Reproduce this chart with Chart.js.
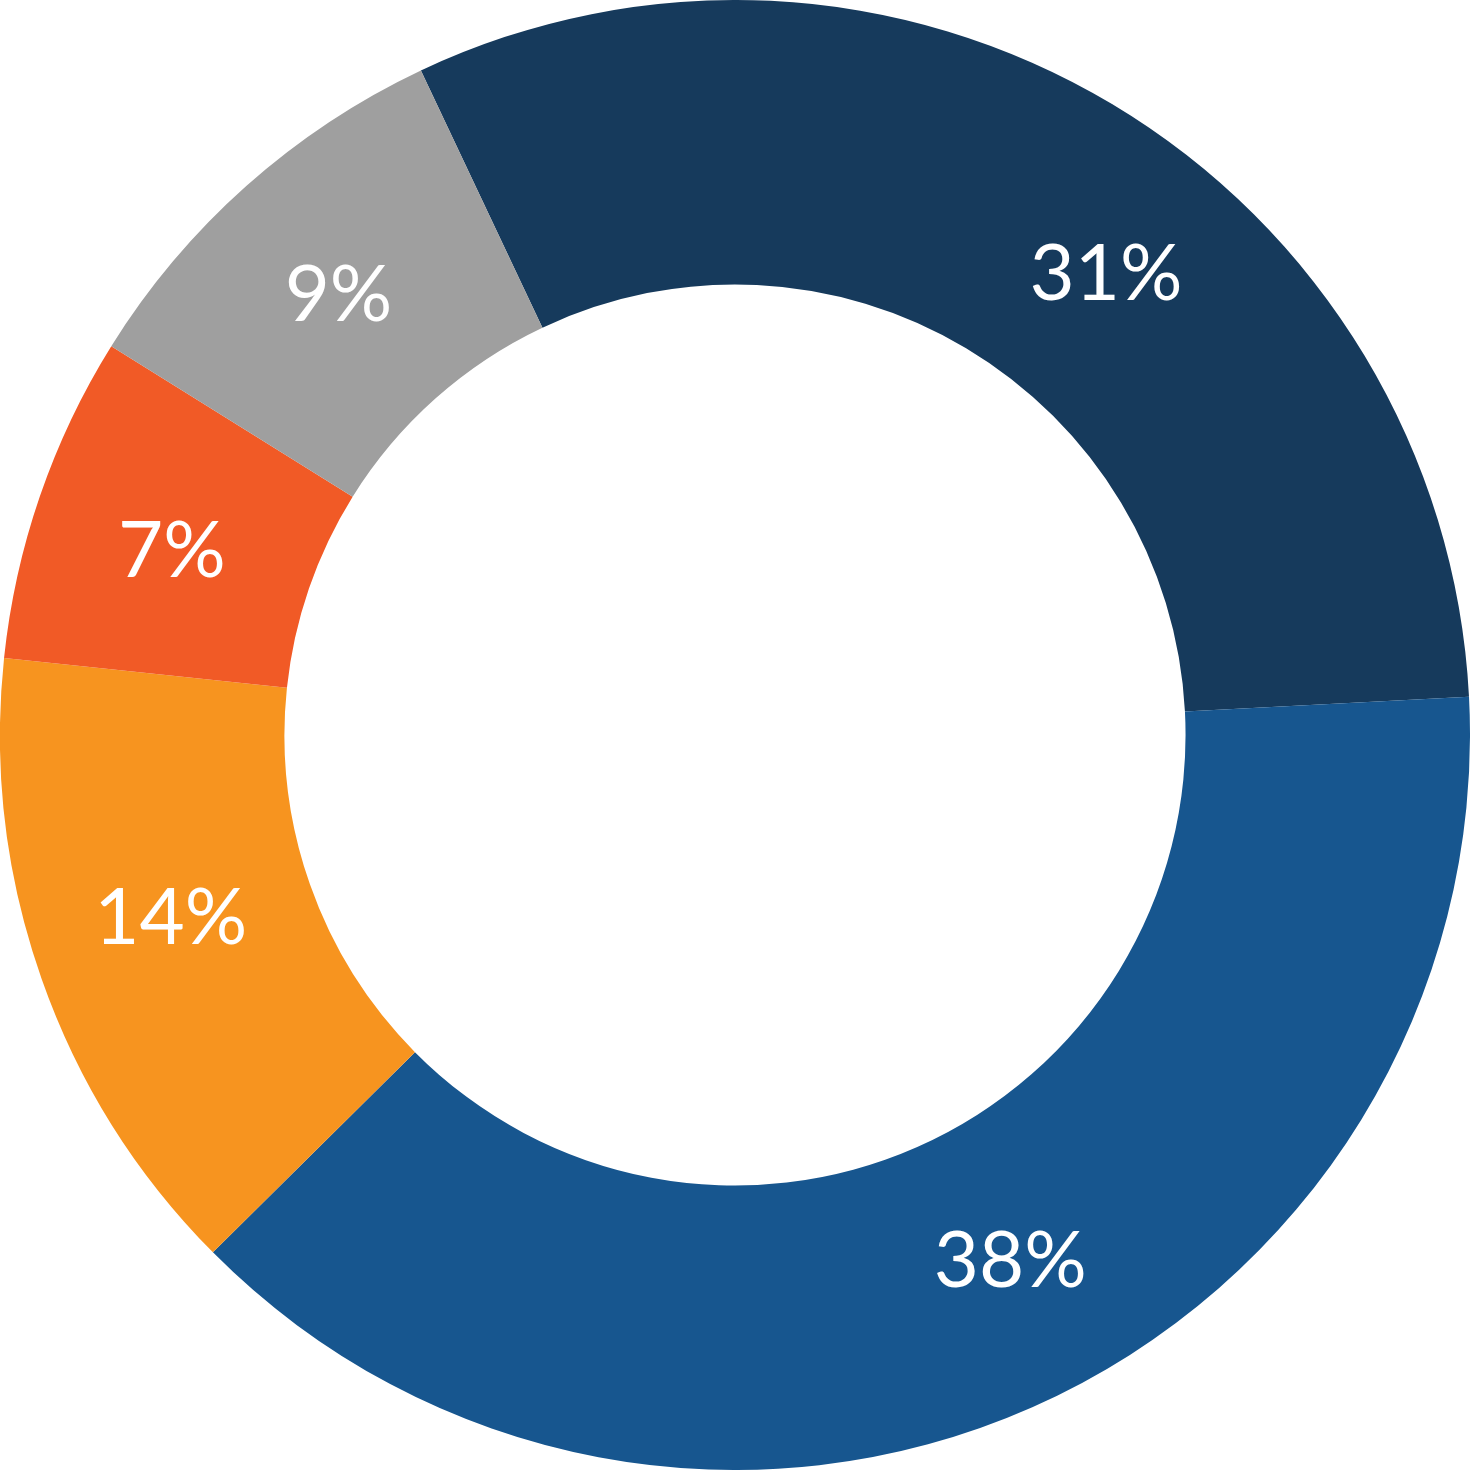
<!DOCTYPE html>
<html>
<head>
<meta charset="utf-8">
<script src="https://cdn.jsdelivr.net/npm/chart.js@4"></script>
<style>
  html, body { margin: 0; padding: 0; background: #ffffff; }
  #wrap { width: 1470px; height: 1470px; }
</style>
</head>
<body>
<div id="wrap"><canvas id="donut" width="1470" height="1470"></canvas></div>
<script>
// slice values (percent)
var sliceLabels = ['A', 'B', 'C', 'D', 'E'];
var sliceValues = [31.2, 38.4, 14.1, 7.2, 9.1];
var sliceText = ['31%', '38%', '14%', '7%', '9%'];
var sliceColors = ['#163A5C', '#17568F', '#F7941F', '#F15A26', '#9F9F9F'];

// draws the white percent text in the middle of each slice
var sliceTextPlugin = {
    id: 'sliceText',
    afterDatasetsDraw: function (chart, args, opts) {
        var ctx = chart.ctx;
        var meta = chart.getDatasetMeta(0);
        ctx.save();
        ctx.fillStyle = '#ffffff';
        ctx.font = '400 78px Lato, "DejaVu Sans", sans-serif';
        ctx.textAlign = 'center';
        ctx.textBaseline = 'middle';
        meta.data.forEach(function (arc, i) {
            var p = arc.getProps(['x', 'y', 'startAngle', 'endAngle', 'innerRadius', 'outerRadius'], true);
            var shift = (opts.shift[i] || 0) * Math.PI / 180;
            var a = (p.startAngle + p.endAngle) / 2 + shift;
            var r = (p.innerRadius + p.outerRadius) / 2;
            ctx.fillText(sliceText[i], p.x + Math.cos(a) * r, p.y + Math.sin(a) * r + 2);
        });
        ctx.restore();
    }
};

var ctx = document.getElementById('donut').getContext('2d');
var myDonut = new Chart(ctx, {
    type: 'doughnut',
    data: {
        labels: sliceLabels,
        datasets: [{
            data: sliceValues,
            backgroundColor: sliceColors,
            borderWidth: 0
        }]
    },
    options: {
        responsive: false,
        animation: false,
        rotation: -25.3,
        cutout: '61.3%',
        layout: { padding: 0 },
        plugins: {
            legend: { display: false },
            tooltip: { enabled: false },
            sliceText: { shift: [7.9, -3.8, 1.5, -0.8, -0.3] }
        }
    },
    plugins: [sliceTextPlugin]
});
</script>
</body>
</html>
